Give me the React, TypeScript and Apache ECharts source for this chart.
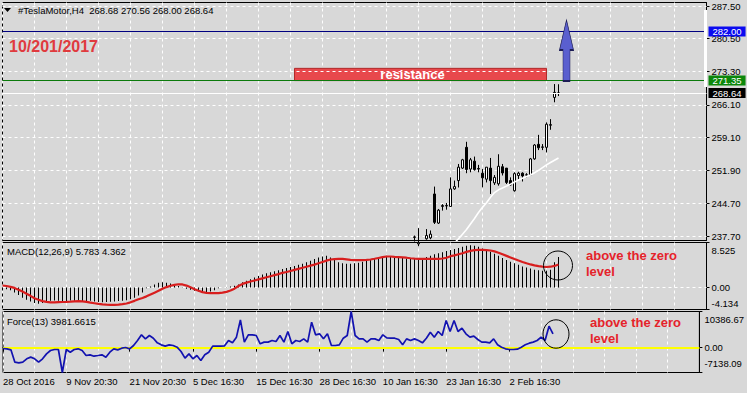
import React, { useEffect, useRef } from 'react';
import * as echarts from 'echarts';

// ---------- texts ----------
const symbolName = '#TeslaMotor,H4';
const headerQuote = '268.68 270.56 268.00 268.64';
const dateTitle = '10/201/2017';
const macdTitle = 'MACD(12,26,9) 5.783 4.362';
const forceTitle = 'Force(13) 3981.6615';
const noteText = 'above the zero\nlevel';
const resistanceText = 'resistance';

// ---------- time axis ----------
const timeTickLabels = ['28 Oct 2016', '9 Nov 20:30', '21 Nov 20:30', '5 Dec 16:30', '15 Dec 16:30', '28 Dec 16:30', '10 Jan 16:30', '23 Jan 16:30', '2 Feb 16:30'];
const slotCount = 177;
const labelStep = 16;
const gridStep = 8;

// ---------- price panel ----------
const priceTicks = [237.7, 244.7, 251.9, 259.1, 266.1, 273.3, 280.5, 287.5];
const priceMin = 236.726;
const priceMax = 288.258;
const targetLevel = 282.0;
const resistanceLevel = 271.35;
const lastPrice = 268.64;
const resistanceTop = 274.0;
const resistanceFrom = 73;
const resistanceTo = 136;
const arrowIndex = 141;
const arrowMid = 277.86;

const candleStartIndex = 103;
// [open, close, low, high]
const candles = [
  [237.4, 237.5, 236.5, 237.8],
  [236.0, 236.3, 235.5, 239.4],
  [235.8, 236.2, 235.0, 236.5],
  [237.1, 237.8, 236.9, 239.2],
  [237.3, 238.1, 237.0, 238.9],
  [246.8, 240.66, 240.3, 248.4],
  [240.5, 243.3, 240.3, 243.55],
  [244.1, 244.3, 243.2, 244.6],
  [244.2, 244.3, 243.4, 244.85],
  [244.1, 247.9, 244.1, 250.4],
  [247.9, 248.4, 247.7, 249.7],
  [249.7, 252.6, 248.2, 253.3],
  [252.4, 254.2, 252.2, 254.4],
  [256.9, 252.1, 251.3, 258.1],
  [252.2, 254.2, 251.5, 254.6],
  [253.9, 252.1, 251.85, 254.9],
  [252.3, 252.2, 251.5, 253.1],
  [251.3, 250.3, 248.24, 252.2],
  [250.0, 252.6, 249.3, 252.6],
  [252.4, 249.7, 246.8, 254.6],
  [249.2, 250.4, 248.75, 250.9],
  [249.0, 252.8, 248.6, 255.4],
  [252.7, 251.35, 250.8, 253.3],
  [252.4, 249.3, 248.96, 252.4],
  [249.7, 248.75, 248.6, 250.4],
  [247.5, 251.2, 247.3, 251.5],
  [250.8, 251.3, 250.05, 251.6],
  [251.3, 250.7, 249.5, 251.5],
  [250.9, 250.95, 250.4, 251.3],
  [250.9, 254.4, 250.8, 254.6],
  [254.4, 257.4, 254.2, 257.6],
  [257.55, 256.8, 256.3, 259.6],
  [256.9, 257.0, 256.3, 257.6],
  [256.9, 261.9, 255.8, 262.3],
  [261.8, 261.7, 260.7, 263.0],
  [267.7, 268.8, 266.65, 270.6],
  [268.68, 268.64, 268.0, 270.56],
];

const maStartIndex = 110;
const maValues = [233.5, 234.4, 235.3, 236.2, 237.1, 238.1, 239.1, 240.3, 241.5, 242.8, 243.9, 244.9, 246.1, 247.1, 247.7, 248.1, 248.5, 248.9, 249.4, 249.8, 250.2, 250.6, 250.9, 251.4, 251.9, 252.5, 253.1, 253.6, 254.1, 254.6];

// ---------- MACD panel ----------
const macdMain = [
  -0.1, -0.3, -0.5, -0.9, -1.4, -1.9, -2.3, -2.6, -2.9, -3.05,
  -2.9, -2.6, -2.5, -2.45, -2.5, -2.6, -2.55, -2.45, -2.5, -2.55,
  -2.6, -2.55, -2.5, -2.6, -2.7, -2.75, -2.7, -2.65, -2.6, -2.55,
  -2.5, -2.4, -2.2, -1.9, -1.5, -0.9, -0.1, 0.2, 0.6, 0.9,
  1.0, 0.9, 0.8, 0.6, 0.3, 0.05, -0.2, -0.4, -0.6, -0.75,
  -0.85, -0.85, -0.75, -0.5, -0.1, 0.0, 0.05, 0.2, 0.35, 0.6,
  1.0, 1.3, 1.6, 1.9, 2.2, 2.5, 2.7, 2.9, 3.1, 3.3,
  3.5, 3.7, 3.9, 4.1, 4.3, 4.5, 4.8, 5.1, 5.4, 5.7,
  5.9, 6.0, 5.7, 5.3, 4.8, 4.6, 4.5, 4.5, 4.6, 4.7,
  4.9, 5.1, 5.4, 5.6, 5.8, 5.9, 6.0, 5.9, 5.8, 5.7,
  5.6, 5.5, 5.4, 5.4, 5.5, 5.6, 5.8, 6.0, 6.3, 6.5,
  6.7, 6.9, 7.1, 7.3, 7.5, 7.7, 7.9, 8.0, 7.9, 7.7,
  7.4, 7.1, 6.8, 6.4, 6.0, 5.6, 5.2, 4.9, 4.6, 4.3,
  4.0, 3.8, 3.6, 3.4, 3.3, 3.2, 3.2, 3.4, 4.8, 5.783,
];
const macdSignal = [
  0.4, 0.3, 0.15, -0.05, -0.4, -0.75, -1.15, -1.55, -2.0, -2.3,
  -2.55, -2.7, -2.8, -2.8, -2.75, -2.72, -2.69, -2.65, -2.6, -2.57,
  -2.6, -2.7, -2.82, -2.95, -3.08, -3.18, -3.23, -3.26, -3.25, -3.2,
  -3.13, -3.0, -2.78, -2.5, -2.2, -1.95, -1.65, -1.3, -0.95, -0.6,
  -0.2, 0.1, 0.35, 0.52, 0.63, 0.6, 0.38, 0.05, -0.3, -0.6,
  -0.85, -0.99, -1.03, -1.05, -1.05, -0.95, -0.8, -0.55, -0.2, 0.3,
  0.7, 0.95, 1.15, 1.35, 1.55, 1.75, 1.95, 2.15, 2.35, 2.55,
  2.8, 2.95, 3.15, 3.35, 3.55, 3.75, 3.95, 4.15, 4.35, 4.6,
  4.85, 5.1, 5.31, 5.4, 5.44, 5.44, 5.35, 5.25, 5.2, 5.18,
  5.2, 5.25, 5.31, 5.45, 5.6, 5.75, 5.88, 5.88, 5.8, 5.75,
  5.7, 5.65, 5.55, 5.48, 5.44, 5.42, 5.42, 5.43, 5.44, 5.44,
  5.5, 5.65, 5.94, 6.1, 6.3, 6.5, 6.75, 6.95, 7.08, 7.14,
  7.14, 7.1, 7.01, 6.85, 6.6, 6.3, 6.0, 5.7, 5.4, 5.12,
  4.85, 4.6, 4.38, 4.2, 4.05, 3.95, 3.9, 3.95, 4.1, 4.362,
];
const macdTicks = [-4.134, 0, 8.525];
const macdTickLabels = ['-4.134', '0.00', '8.525'];

// ---------- Force panel ----------
const forceValues = [
  -245, -340, -630, -4170, -4360, -4170, -3210, -2730, -3210, -4170,
  -3210, -1780, -820, -530, -530, -7138.09, -530, -1300, -530, -340,
  -820, -2260, -2060, -2450, -2260, -2060, -2730, -1300, -340, -630,
  -150, 40, -340, 620, 2050, 3680, 2530, 3490, 2720, 1380,
  810, 430, 810, 620, 140, -1110, -3020, -1780, -3210, -2260,
  -3690, -2060, -1300, 430, 430, 430, 520, 2050, 1380, 3010,
  7990, 1580, 3680, 3680, 3490, 1100, 1580, 1580, 2050, 1770,
  3490, 1580, 4640, 1100, 2050, 1770, 2530, 1580, 7320, 3680,
  3970, 2530, 3970, 620, 620, 810, 2720, 3490, 10386.67, 3490,
  2530, 2530, 1580, 2530, 2530, 2050, 3680, 2820, 2720, 2720,
  2340, 810, 2530, 2050, 2530, 2050, 1380, 2720, 4450, 3010,
  4640, 3490, 7800, 4640, 7800, 4640, 5600, 3970, 3010, 3300,
  2340, 1580, 1580, 1380, 2530, 810, 140, -340, -530, -530,
  -430, 140, 810, 1290, 1580, 2050, 3010, 2050, 6170, 3981.66,
];
const forceTicks = [-7138.09, 0, 10386.67];
const forceTickLabels = ['-7138.09', '0.00', '10386.67'];

// ---------- styles ----------
const BG = '#d8d8d8';
const FONT = 'Liberation Sans';
const FS = 9.5;
const NOTE_RED = '#e5232b';

export default function App() {
  const ref = useRef<HTMLDivElement>(null);

  useEffect(() => {
    document.body.style.margin = '0';
    document.body.style.background = BG;
    const chart = echarts.init(ref.current!, null, { renderer: 'svg' });

    const cats = Array.from({ length: slotCount }, (_, i) => String(i));
    const candleData = cats.map((_, i) => {
      const k = i - candleStartIndex;
      return k >= 0 && k < candles.length ? candles[k] : ['-', '-', '-', '-'];
    });
    const maData = cats.map((_, i) => {
      const k = i - maStartIndex;
      return k >= 0 && k < maValues.length ? maValues[k] : '-';
    });

    const isLabelIdx = (i: number) => i % labelStep === 0 && i / labelStep < timeTickLabels.length;
    const isGridIdx = (i: number) => i % gridStep === 0;

    const xAxisBase = (gridIndex: number, showLabels: boolean) => ({
      type: 'category',
      gridIndex,
      data: cats,
      boundaryGap: false,
      axisLine: { show: showLabels, lineStyle: { color: '#000', width: 1 } },
      axisTick: {
        show: showLabels,
        interval: (i: number) => isLabelIdx(i),
        length: 4,
        lineStyle: { color: '#000' },
      },
      axisLabel: {
        show: showLabels,
        interval: (i: number) => isLabelIdx(i),
        formatter: (_v: string, i: number) => timeTickLabels[i / labelStep] ?? '',
        align: 'left',
        margin: 4,
        color: '#000',
        fontFamily: FONT,
        fontSize: FS,
      },
      splitLine: {
        show: true,
        interval: (i: number) => isGridIdx(i),
        lineStyle: { color: '#ffffff', type: [3, 3], width: 1 },
      },
    });

    const subLabel = (ticks: number[], labels: string[], padTop: number, padBottom: number) => ({
      customValues: ticks,
      margin: 5,
      color: '#000',
      fontFamily: FONT,
      fontSize: FS,
      formatter: (v: number) => {
        const k = ticks.findIndex((t) => Math.abs(t - v) < 1e-6);
        const s = k >= 0 ? labels[k] : '';
        if (k === ticks.length - 1) return `{top|${s}}`;
        if (k === 0) return `{bot|${s}}`;
        return `{mid|${s}}`;
      },
      rich: {
        top: { padding: [padTop, 0, 0, 0], fontFamily: FONT, fontSize: FS, color: '#000' },
        bot: { padding: [0, 0, padBottom, 0], fontFamily: FONT, fontSize: FS, color: '#000' },
        mid: { fontFamily: FONT, fontSize: FS, color: '#000' },
      },
    });

    const yAxisBase = (gridIndex: number, min: number, max: number, ticks: number[]) => ({
      type: 'value',
      gridIndex,
      position: 'right',
      min,
      max,
      axisLine: { show: true, lineStyle: { color: '#000' } },
      axisTick: { show: true, length: 3, customValues: ticks, lineStyle: { color: '#000' } },
      splitLine: { show: false },
    });

    const priceTag = (value: number, line: string, bg: string) => ({
      yAxis: value,
      lineStyle: { color: line, width: 1, type: 'solid' },
      label: {
        show: true,
        position: 'end',
        distance: 2,
        formatter: value.toFixed(2),
        backgroundColor: bg,
        color: '#ffffff',
        fontFamily: FONT,
        fontSize: FS,
        lineHeight: 10,
        padding: [0, 4, 0, 4],
      },
    });

    const gridBox = (top: number, height: number) => ({
      left: 2.5, right: 40.5, top, height, show: true, borderColor: '#000', borderWidth: 1, backgroundColor: 'transparent',
    });

    const option: any = {
      animation: false,
      backgroundColor: BG,
      grid: [gridBox(2.5, 238), gridBox(242.5, 67), gridBox(311.5, 61)],
      xAxis: [xAxisBase(0, false), xAxisBase(1, false), xAxisBase(2, true)],
      yAxis: [
        {
          ...yAxisBase(0, priceMin, priceMax, priceTicks),
          axisLabel: {
            customValues: priceTicks,
            formatter: (v: number) => v.toFixed(2),
            margin: 5,
            color: '#000',
            fontFamily: FONT,
            fontSize: FS,
          },
        },
        { ...yAxisBase(1, macdTicks[0], macdTicks[2], macdTicks), axisLabel: subLabel(macdTicks, macdTickLabels, 16, 12) },
        { ...yAxisBase(2, forceTicks[0], forceTicks[2], forceTicks), axisLabel: subLabel(forceTicks, forceTickLabels, 16, 18) },
      ],
      series: [
        {
          type: 'line',
          name: 'MA',
          xAxisIndex: 0,
          yAxisIndex: 0,
          data: maData,
          symbol: 'none',
          lineStyle: { color: '#ffffff', width: 1.6 },
          z: 3,
          markLine: {
            silent: true,
            z: 1,
            symbol: 'none',
            label: { show: false },
            data: priceTicks.map((v) => ({ yAxis: v, lineStyle: { color: '#ffffff', type: [3, 3], width: 1 } })),
          },
        },
        {
          type: 'candlestick',
          xAxisIndex: 0,
          yAxisIndex: 0,
          data: candleData,
          barWidth: 3,
          itemStyle: { color: '#ffffff', color0: '#000000', borderColor: '#000000', borderColor0: '#000000', borderWidth: 1 },
          markLine: {
            silent: true,
            symbol: 'none',
            data: [
              priceTag(targetLevel, '#000080', '#0a0af0'),
              priceTag(resistanceLevel, '#0b7a0b', '#0b870b'),
              priceTag(lastPrice, '#ffffff', '#000000'),
            ],
          },
          markArea: {
            silent: true,
            itemStyle: { color: '#e8484c', borderColor: '#b02a2a', borderWidth: 1 },
            label: {
              show: true,
              position: 'inside',
              offset: [-8, 0],
              color: '#ffffff',
              fontFamily: FONT,
              fontWeight: 'bold',
              fontSize: 13,
            },
            data: [[{ name: resistanceText, xAxis: resistanceFrom, yAxis: resistanceLevel }, { xAxis: resistanceTo, yAxis: resistanceTop }]],
          },
          markPoint: {
            silent: true,
            symbol: 'path://M7 0 L14 30 L10.5 30 L10.5 61 L3.5 61 L3.5 30 L0 30 Z',
            symbolSize: [14, 61],
            symbolKeepAspect: false,
            itemStyle: { color: '#5a5fcf', borderColor: '#1c1c55', borderWidth: 1 },
            label: { show: false },
            data: [{ coord: [arrowIndex, arrowMid] }],
          },
        },
        {
          type: 'bar',
          xAxisIndex: 1,
          yAxisIndex: 1,
          data: macdMain,
          barWidth: 1,
          itemStyle: { color: '#000000' },
          markLine: {
            silent: true,
            z: 1,
            symbol: 'none',
            label: { show: false },
            data: [{ yAxis: 0, lineStyle: { color: '#ffffff', type: [3, 3], width: 1 } }],
          },
        },
        {
          type: 'line',
          xAxisIndex: 1,
          yAxisIndex: 1,
          data: macdSignal,
          symbol: 'none',
          z: 4,
          lineStyle: { color: '#d81e1e', width: 2.2 },
        },
        {
          type: 'line',
          xAxisIndex: 2,
          yAxisIndex: 2,
          data: forceValues,
          symbol: 'none',
          z: 4,
          lineStyle: { color: '#1212b0', width: 1.7 },
          markLine: {
            silent: true,
            z: 1,
            symbol: 'none',
            label: { show: false },
            data: [{ yAxis: 0, lineStyle: { color: '#ffff00', type: 'solid', width: 2 } }],
          },
        },
      ],
      graphic: [
        { type: 'polygon', z: 20, shape: { points: [[4, 8], [11, 8], [7.5, 12]] }, style: { fill: '#000' } },
        {
          type: 'text', z: 20, x: 18, y: 10,
          style: { text: `${symbolName}  ${headerQuote}`, fill: '#000', fontFamily: FONT, fontSize: FS, verticalAlign: 'middle', align: 'left' },
        },
        {
          type: 'text', z: 20, x: 9, y: 46,
          style: { text: dateTitle, fill: '#e03a3e', fontFamily: FONT, fontSize: 16, fontWeight: 'bold', verticalAlign: 'middle', align: 'left' },
        },
        {
          type: 'text', z: 20, x: 7, y: 251,
          style: { text: macdTitle, fill: '#000', fontFamily: FONT, fontSize: FS, verticalAlign: 'middle', align: 'left' },
        },
        {
          type: 'text', z: 20, x: 7, y: 321,
          style: { text: forceTitle, fill: '#000', fontFamily: FONT, fontSize: FS, verticalAlign: 'middle', align: 'left' },
        },
        {
          type: 'text', z: 20, x: 586, y: 263,
          style: { text: noteText, fill: NOTE_RED, fontFamily: FONT, fontSize: 13, fontWeight: 'bold', lineHeight: 16, verticalAlign: 'middle', align: 'left' },
        },
        {
          type: 'text', z: 20, x: 590, y: 330,
          style: { text: noteText, fill: NOTE_RED, fontFamily: FONT, fontSize: 13, fontWeight: 'bold', lineHeight: 16, verticalAlign: 'middle', align: 'left' },
        },
        { type: 'ellipse', z: 20, shape: { cx: 558, cy: 265.5, rx: 14.5, ry: 14.5 }, style: { fill: 'none', stroke: '#000', lineWidth: 1 } },
        { type: 'ellipse', z: 20, shape: { cx: 556, cy: 334, rx: 13, ry: 14.2 }, style: { fill: 'none', stroke: '#000', lineWidth: 1 } },
        { type: 'rect', z: 20, shape: { x: 704, y: 10, width: 3, height: 77 }, style: { fill: '#ffffff' } },
      ],
    };

    chart.setOption(option);
    return () => chart.dispose();
  }, []);

  return <div ref={ref} style={{ width: 747, height: 393, background: BG }} />;
}
